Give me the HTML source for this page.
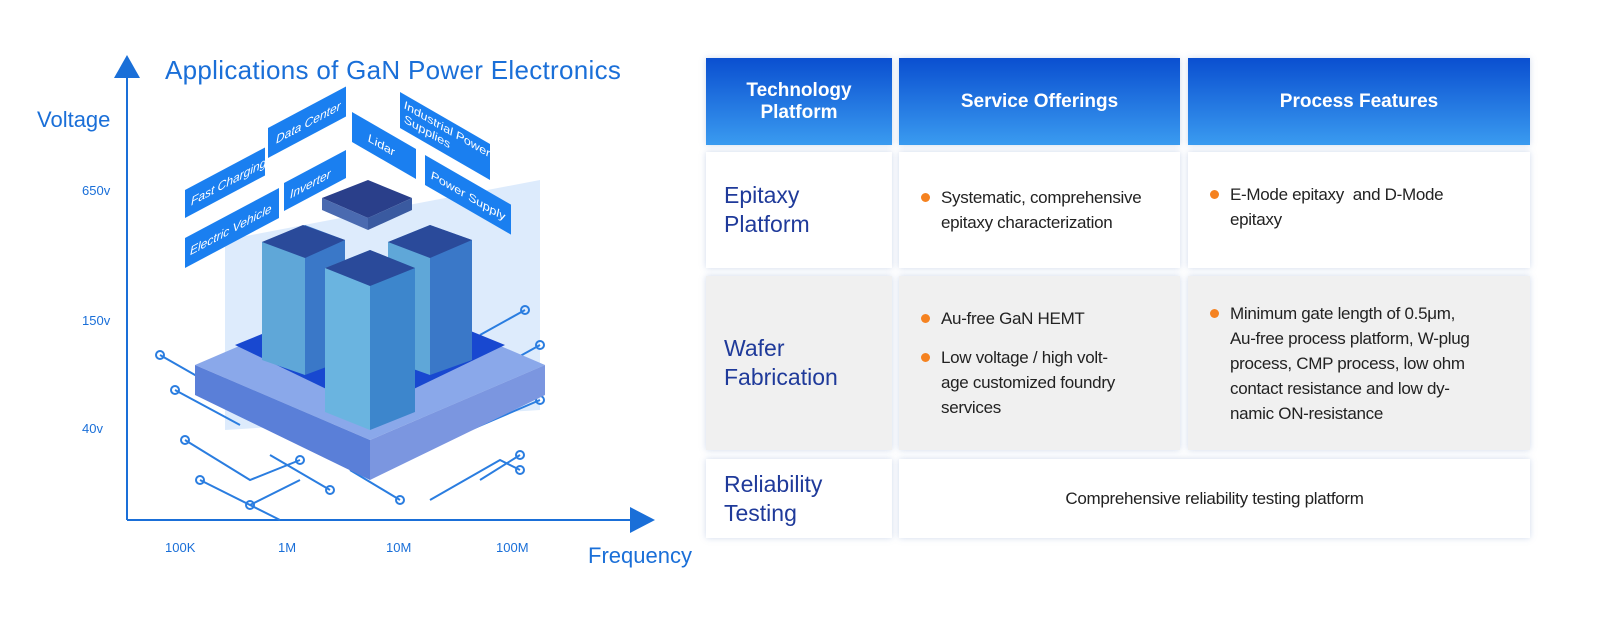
<!DOCTYPE html>
<html><head><style>
body{margin:0;width:1600px;height:625px;background:#fff;position:relative;font-family:"Liberation Sans",sans-serif;overflow:hidden}
.a{position:absolute}
.c{position:absolute;box-sizing:border-box;box-shadow:0 0 6px rgba(120,150,200,.35);display:flex;align-items:center}
.h{background:linear-gradient(#0a4fd0,#3a9bf0);color:#fff;font-weight:bold;font-size:19px;justify-content:center;text-align:center;line-height:22px}
.w{background:#fff}.g{background:#f0f0f0}
.t{color:#1f3a9a;font-size:23px;line-height:29px;padding-left:18px}
.b{font-size:17px;color:#222;line-height:25px;letter-spacing:-0.3px}
.b p{margin:0;padding-left:22px;position:relative;white-space:nowrap}
.b p:before{content:"";position:absolute;left:2px;top:8px;width:9px;height:9px;border-radius:50%;background:#f58220}
.ax{color:#1a6fd8;font-size:13px}
</style></head><body>
<svg class="a" style="left:0;top:0" width="700" height="625">
<line x1="127" y1="75" x2="127" y2="520" stroke="#1a6fd8" stroke-width="2"/>
<polygon points="127,55 114,78 140,78" fill="#1a6fd8"/>
<line x1="127" y1="520" x2="632" y2="520" stroke="#1a6fd8" stroke-width="2"/>
<polygon points="655,520 630,507 630,533" fill="#1a6fd8"/>
<polygon points="225,240 540,180 540,410 225,430" fill="#cfe3fb" opacity=".7"/>
<g stroke="#2a7de0" stroke-width="2" fill="none">
<path d="M185,440 L250,480 L300,460 M200,480 L280,520 M270,455 L330,490 M430,500 L500,460 L520,470 M470,430 L540,400 M480,480 L520,455 M160,355 L230,395 M175,390 L240,425 M525,310 L480,335 M540,345 L495,370 M250,505 L300,480 M350,470 L400,500"/>
<circle cx="185" cy="440" r="4"/><circle cx="200" cy="480" r="4"/><circle cx="300" cy="460" r="4"/><circle cx="330" cy="490" r="4"/><circle cx="520" cy="470" r="4"/><circle cx="540" cy="400" r="4"/><circle cx="520" cy="455" r="4"/><circle cx="160" cy="355" r="4"/><circle cx="175" cy="390" r="4"/><circle cx="525" cy="310" r="4"/><circle cx="540" cy="345" r="4"/><circle cx="250" cy="505" r="4"/><circle cx="400" cy="500" r="4"/>
</g>
<polygon points="195,365 370,290 545,365 370,440" fill="#8aa8ea"/>
<polygon points="195,365 370,440 370,480 195,395" fill="#5a7fd8"/>
<polygon points="370,440 545,365 545,395 370,480" fill="#7b96e0"/>
<polygon points="235,345 370,290 505,345 370,410" fill="#1848d0"/>
<g>
<polygon points="262,242 305,225 305,375 262,360" fill="#5fa7d8"/><polygon points="305,225 345,240 345,360 305,375" fill="#3a78c8"/><polygon points="262,242 303,225 345,240 305,258" fill="#2a4a9a"/>
<polygon points="388,242 430,225 430,375 388,360" fill="#5fa7d8"/><polygon points="430,225 472,240 472,360 430,375" fill="#3a78c8"/><polygon points="388,242 430,225 472,240 430,258" fill="#2a4a9a"/>
<polygon points="322,198 368,180 412,198 368,218" fill="#2a3f8a"/><polygon points="322,198 368,218 368,230 322,210" fill="#4a6ab0"/><polygon points="368,218 412,198 412,210 368,230" fill="#3a5aa0"/>
<polygon points="325,268 370,250 370,430 325,412" fill="#6ab4e0"/><polygon points="370,250 415,268 415,412 370,430" fill="#3d86cc"/><polygon points="325,268 370,250 415,268 370,286" fill="#2a4a9a"/>
</g>
<g font-size="12" font-style="italic">
<g transform="translate(185,190) skewY(-28)"><rect width="80" height="28" fill="#1a7ff0"/><text x="6" y="19" fill="#fff">Fast Charging</text></g>
<g transform="translate(268,128) skewY(-28)"><rect width="78" height="30" fill="#1a7ff0"/><text x="8" y="20" fill="#fff">Data Center</text></g>
<g transform="translate(185,238) skewY(-28)"><rect width="94" height="30" fill="#1a7ff0"/><text x="5" y="20" fill="#fff">Electric Vehicle</text></g>
<g transform="translate(284,183) skewY(-28)"><rect width="62" height="28" fill="#1a7ff0"/><text x="6" y="19" fill="#fff">Inverter</text></g>
<g transform="translate(352,112) skewY(30)"><rect width="64" height="30" fill="#1a7ff0"/><text x="16" y="20" fill="#fff">Lidar</text></g>
<g transform="translate(400,92) skewY(30)"><rect width="90" height="36" fill="#1a7ff0"/><text x="4" y="14" fill="#fff">Industrial Power</text><text x="4" y="28" fill="#fff">Supplies</text></g>
<g transform="translate(425,155) skewY(30)"><rect width="86" height="30" fill="#1a7ff0"/><text x="6" y="20" fill="#fff">Power Supply</text></g>
</g>
</svg>
<div class="a" style="left:165px;top:55px;font-size:26px;color:#1a6fd8;letter-spacing:0.3px">Applications of GaN Power Electronics</div>
<div class="a" style="left:37px;top:107px;font-size:22px;color:#1a6fd8">Voltage</div>
<div class="a ax" style="left:82px;top:183px">650v</div>
<div class="a ax" style="left:82px;top:313px">150v</div>
<div class="a ax" style="left:82px;top:421px">40v</div>
<div class="a ax" style="left:165px;top:540px">100K</div>
<div class="a ax" style="left:278px;top:540px">1M</div>
<div class="a ax" style="left:386px;top:540px">10M</div>
<div class="a ax" style="left:496px;top:540px">100M</div>
<div class="a" style="left:588px;top:543px;font-size:22px;color:#1a6fd8">Frequency</div>

<div class="c h" style="left:706px;top:58px;width:186px;height:87px">Technology<br>Platform</div>
<div class="c h" style="left:899px;top:58px;width:281px;height:87px">Service Offerings</div>
<div class="c h" style="left:1188px;top:58px;width:342px;height:87px">Process Features</div>

<div class="c w t" style="left:706px;top:152px;width:186px;height:116px">Epitaxy<br>Platform</div>
<div class="c w b" style="left:899px;top:152px;width:281px;height:116px;padding-left:20px"><p>Systematic, comprehensive<br>epitaxy characterization</p></div>
<div class="c w b" style="left:1188px;top:152px;width:342px;height:116px;padding:0 20px 6px 20px"><p>E-Mode epitaxy&nbsp; and D-Mode<br>epitaxy</p></div>

<div class="c g t" style="left:706px;top:276px;width:186px;height:174px">Wafer<br>Fabrication</div>
<div class="c g b" style="left:899px;top:276px;width:281px;height:174px;padding:0 20px"><div><p>Au-free GaN HEMT</p><p style="margin-top:14px">Low voltage / high volt-<br>age customized foundry<br>services</p></div></div>
<div class="c g b" style="left:1188px;top:276px;width:342px;height:174px;padding:0 20px"><p>Minimum gate length of 0.5μm,<br>Au-free process platform, W-plug<br>process, CMP process, low ohm<br>contact resistance and low dy-<br>namic ON-resistance</p></div>

<div class="c w t" style="left:706px;top:459px;width:186px;height:79px">Reliability<br>Testing</div>
<div class="c w b" style="left:899px;top:459px;width:631px;height:79px;justify-content:center">Comprehensive reliability testing platform</div>
</body></html>
